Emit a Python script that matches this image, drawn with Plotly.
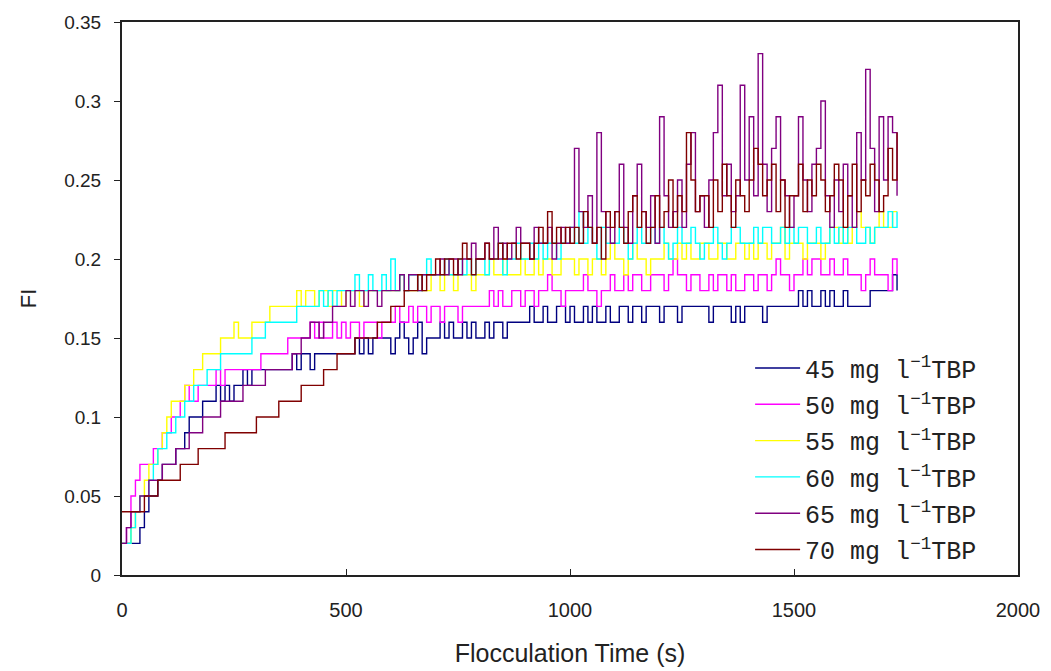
import plotly.graph_objects as go

# time step 10 s, values in hundredths of FI
t_step = 10
labels = ["45 mg l<sup>−1</sup>TBP", "50 mg l<sup>−1</sup>TBP", "55 mg l<sup>−1</sup>TBP",
          "60 mg l<sup>−1</sup>TBP", "65 mg l<sup>−1</sup>TBP", "70 mg l<sup>−1</sup>TBP"]
colors = ["#000080", "#FF00FF", "#FFFF00", "#00FFFF", "#800080", "#800000"]

fi_45 = [2,2,2,2,3,4,5,5,6,7,
         7,7,8,8,9,10,10,10,11,11,
         11,12,11,12,11,12,12,13,12,13,
         13,13,13,13,13,13,13,13,14,13,
         14,14,13,14,14,14,14,14,14,14,
         14,14,15,14,15,14,15,15,15,15,
         14,15,16,15,14,15,16,14,15,15,
         15,16,15,16,15,15,16,15,16,15,
         15,16,15,16,16,15,16,16,16,16,
         16,17,16,16,17,16,16,17,17,16,
         17,16,16,17,16,17,16,16,17,16,
         16,17,17,16,17,17,16,17,17,17,
         16,17,17,17,16,17,17,17,17,17,
         17,16,17,17,17,17,16,17,16,17,
         17,17,17,16,17,17,17,17,17,17,
         17,18,17,18,17,17,18,17,18,17,
         17,18,17,17,17,17,17,18,18,18,
         18,18,19,18]
fi_50 = [2,3,5,6,7,7,7,8,8,9,
         9,10,10,11,12,11,11,12,12,12,
         12,13,12,13,13,13,13,13,13,13,
         13,14,14,14,14,14,14,15,15,15,
         15,15,16,15,16,15,15,16,15,16,
         15,16,16,15,16,16,16,15,16,16,
         16,17,16,16,17,16,17,17,16,17,
         17,16,17,17,17,16,17,17,17,17,
         17,17,18,17,18,17,17,18,18,17,
         18,18,17,18,18,19,18,18,17,18,
         18,18,18,19,18,18,17,18,18,19,
         18,18,19,18,19,19,18,18,19,19,
         19,18,19,20,19,19,18,19,19,18,
         18,19,18,19,19,18,19,18,18,19,
         19,18,19,19,18,19,20,19,19,18,
         19,19,20,19,20,20,19,19,20,19,
         19,20,19,19,19,18,19,20,19,19,
         19,18,20,19]
fi_55 = [2,2,3,4,5,6,7,7,8,9,
         10,11,11,11,12,12,13,13,14,14,
         14,14,15,15,15,16,15,15,15,16,
         16,16,16,17,17,17,17,17,17,18,
         17,18,18,17,18,18,17,18,18,17,
         18,18,18,17,18,18,18,18,18,18,
         18,18,19,18,18,18,19,18,18,19,
         19,18,19,19,18,19,19,19,18,19,
         19,19,20,19,19,20,19,19,19,20,
         19,19,20,19,20,20,19,19,20,20,
         20,19,20,20,19,20,20,19,20,21,
         20,20,19,20,21,20,20,19,20,20,
         20,21,20,20,21,20,21,20,20,21,
         21,20,20,21,21,20,20,21,21,20,
         21,20,21,21,20,21,21,22,20,21,
         21,21,20,21,21,21,20,21,22,22,
         21,22,21,22,23,22,22,21,22,23,
         22,22,23,23]
fi_60 = [2,2,3,4,5,5,6,7,8,8,
         9,9,10,10,11,11,12,12,12,13,
         13,13,14,14,14,14,14,14,14,15,
         15,15,16,16,16,16,16,16,16,17,
         17,17,17,17,18,17,18,17,18,18,
         18,18,19,18,18,19,18,18,19,18,
         20,18,19,18,19,19,18,19,20,19,
         19,19,20,19,19,20,19,20,19,20,
         20,19,20,20,21,19,20,20,21,20,
         20,21,20,21,20,21,21,20,21,21,
         22,21,23,21,22,21,20,22,21,21,
         21,22,21,20,21,22,21,21,22,21,
         22,21,20,21,22,21,21,22,21,20,
         21,21,22,21,20,21,22,22,21,21,
         21,22,21,22,22,21,21,22,21,22,
         21,22,22,21,21,22,21,21,22,21,
         22,21,22,22,21,21,22,21,22,22,
         22,23,22,23]
fi_65 = [2,3,4,4,5,5,6,6,6,7,
         7,7,8,8,8,9,9,9,10,10,
         10,10,11,11,11,11,11,12,12,12,
         12,12,13,13,13,13,13,13,14,14,
         15,15,16,16,15,16,16,17,17,17,
         18,17,18,18,17,18,18,17,18,18,
         18,18,19,18,19,19,18,19,19,19,
         19,20,19,20,20,19,20,20,21,20,
         20,21,20,22,20,21,20,21,22,21,
         21,20,22,21,21,22,20,21,22,21,
         22,27,23,22,24,21,28,23,22,21,
         23,26,22,21,24,26,23,22,24,21,
         29,24,22,23,25,22,26,28,23,24,
         22,25,28,31,24,26,23,24,31,25,
         29,24,33,26,23,27,29,25,24,22,
         24,29,25,23,26,27,30,24,22,25,
         23,26,24,22,28,25,32,27,23,29,
         25,29,28,24]
fi_70 = [4,4,4,4,4,5,5,5,6,6,
         6,6,6,7,7,7,7,8,8,8,
         8,8,8,9,9,9,9,9,9,9,
         10,10,10,10,10,11,11,11,11,11,
         12,12,12,12,12,13,13,13,14,14,
         14,14,15,15,15,15,15,16,16,16,
         17,17,17,18,18,18,19,18,19,19,
         20,19,20,20,19,20,21,20,19,20,
         20,21,20,20,21,20,21,21,20,21,
         21,20,21,22,21,23,21,22,21,22,
         21,22,21,23,22,21,22,20,23,22,
         23,22,21,23,24,22,23,21,22,24,
         22,23,25,22,24,23,28,25,23,24,
         24,22,25,23,26,24,22,25,24,23,
         25,27,26,24,25,26,23,25,22,24,
         24,26,23,25,24,26,25,23,24,26,
         25,22,24,26,23,25,24,26,25,23,
         24,27,25,28]

series = [fi_45, fi_50, fi_55, fi_60, fi_65, fi_70]

fig = go.Figure()
for k, (lab, col, vals) in enumerate(zip(labels, colors, series)):
    x = [i * t_step for i in range(len(vals))]
    y = [v / 100 for v in vals]
    fig.add_trace(go.Scatter(x=x, y=y, mode="lines", name=lab, legendgroup=f"g{k}",
                             line=dict(color=col, width=1.4, shape="hv")))

fig.update_layout(
    width=1051, height=671,
    margin=dict(l=122, r=33, t=22, b=96),
    paper_bgcolor="white", plot_bgcolor="white",
    showlegend=True,
    legend=dict(x=0.701, y=0.4155, xanchor="left", yanchor="top",
                bgcolor="rgba(0,0,0,0)", itemwidth=45, tracegroupgap=0.8,
                font=dict(family="Liberation Mono, DejaVu Sans Mono, monospace", size=25, color="#222")),
    font=dict(family="Liberation Sans, Arial, sans-serif", color="#222"),
)
fig.update_xaxes(range=[0, 2000], tickvals=[0, 500, 1000, 1500, 2000], automargin=False,
                 showgrid=False, zeroline=False,
                 showline=True, linecolor="#222", linewidth=2, mirror=True,
                 ticks="inside", ticklen=6, tickcolor="#222", ticklabelstandoff=16,
                 tickfont=dict(family="Liberation Sans Narrow, Arial Narrow, Liberation Sans", size=20),
                 title=dict(text="Flocculation Time (s)",
                            font=dict(family="Liberation Sans Narrow, Arial Narrow, Liberation Sans", size=25),
                            standoff=24))
fig.update_yaxes(range=[0, 0.35], dtick=0.05, tick0=0, automargin=False,
                 showgrid=False, zeroline=False,
                 showline=True, linecolor="#222", linewidth=2, mirror=True,
                 ticks="outside", ticklen=6, tickcolor="#222", ticklabelstandoff=9,
                 tickfont=dict(size=19),
                 title=dict(text="FI", font=dict(size=22), standoff=22))

fig.write_html("out.html")
